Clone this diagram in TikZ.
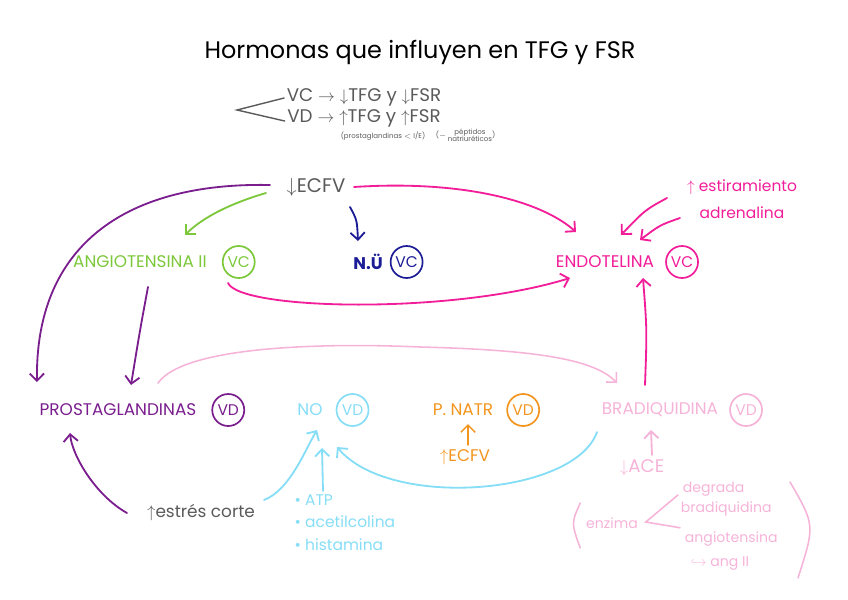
\documentclass[tikz,border=0pt]{standalone}
\usepackage{fontspec}
\setmainfont{Poppins}
\setsansfont{Poppins}
\usetikzlibrary{positioning, arrows.meta, calc}
\definecolor{hgGray}{HTML}{5A5A5A}
\definecolor{hgPurple}{HTML}{7A1E8E}
\definecolor{hgGreen}{HTML}{7CC83A}
\definecolor{hgNavy}{HTML}{1C1C96}
\definecolor{hgMagenta}{HTML}{F21D99}
\definecolor{hgPink}{HTML}{F6B3D8}
\definecolor{hgBlue}{HTML}{86DDF6}
\definecolor{hgOrange}{HTML}{F2951E}
\tikzset{
  every node/.style={font=\sffamily},
  arr/.style={-{Straight Barb[length=1.8mm, width=3.6mm]}, line width=1.3pt, line cap=round, line join=round},
  lbl/.style={inner sep=2pt, font=\sffamily\fontsize{12}{14}\selectfont},
  txt/.style={inner sep=1pt, font=\sffamily\fontsize{11}{13}\selectfont},
  small/.style={inner sep=0.5pt, font=\sffamily\fontsize{10}{11}\selectfont},
  note/.style={inner sep=1pt, font=\sffamily\fontsize{13}{15}\selectfont},
  tiny/.style={inner sep=0pt, text=hgGray, font=\sffamily\fontsize{5}{5.5}\selectfont},
  vcirc/.style={draw, circle, line width=1.2pt, minimum size=8mm, inner sep=0pt,
                font=\sffamily\fontsize{11}{13}\selectfont},
}

\begin{document}
\begin{tikzpicture}[x=0.025cm, y=-0.025cm, node distance=6mm and 10mm]
  \useasboundingbox (0,0) rectangle (848,599);
  % title and legend
  \node[font=\sffamily\fontsize{17}{20}\selectfont] (title) at (420,52) {Hormonas que influyen en TFG y FSR};
  \node[note, text=hgGray] (vc) at (364,97) {VC $\rightarrow$ $\downarrow$TFG y $\downarrow$FSR};
  \node[note, text=hgGray] (vd) at (364,118) {VD $\rightarrow$ $\uparrow$TFG y $\uparrow$FSR};
  \draw[hgGray, line width=1pt, line cap=round] ($(vc.west)+(-1,1)$) -- (237,110) -- ($(vd.west)+(-1,3)$);
  \node[tiny] (ptnote) at (383,136) {(prostaglandinas $<$ I/E)};
  \node[tiny, right=2.5mm of ptnote] (pnnote)
    {($-$\,{\renewcommand\arraystretch{0.75}\begin{tabular}{@{}c@{}}péptidos\\natriuréticos\end{tabular}})};
  % top row
  \node[lbl, text=hgGray, font=\sffamily\fontsize{14}{16}\selectfont] (ecfv) at (316,187) {$\downarrow$ECFV};
  \node[lbl, text=hgGreen] (angio) at (140,262) {ANGIOTENSINA II};
  \node[vcirc, draw=hgGreen, text=hgGreen, right=3mm of angio] (angioVC) {VC};
  \node[lbl, text=hgNavy, font=\sffamily\bfseries\fontsize{12}{14}\selectfont] (nu) at (368,262) {N.Ü};
  \node[vcirc, draw=hgNavy, text=hgNavy, right=1mm of nu] (nuVC) {VC};
  \node[lbl, text=hgMagenta] (endo) at (605,262) {ENDOTELINA};
  \node[vcirc, draw=hgMagenta, text=hgMagenta, right=2mm of endo] (endoVC) {VC};
  \node[txt, text=hgMagenta] (estir) at (742,187) {$\uparrow$ estiramiento};
  \node[txt, text=hgMagenta] (adren) at (742,213) {adrenalina};
  % bottom row
  \node[lbl, text=hgPurple] (prosta) at (118,410) {PROSTAGLANDINAS};
  \node[vcirc, draw=hgPurple, text=hgPurple, right=3mm of prosta] (prostaVD) {VD};
  \node[lbl, text=hgBlue] (no) at (310,410) {NO};
  \node[vcirc, draw=hgBlue, text=hgBlue, right=2.5mm of no] (noVD) {VD};
  \node[lbl, text=hgOrange] (pnatr) at (463,410) {P. NATR};
  \node[vcirc, draw=hgOrange, text=hgOrange, right=2.5mm of pnatr] (pnatrVD) {VD};
  \node[lbl, text=hgOrange] (ecfvB) at (465,457) {$\uparrow$ECFV};
  \node[lbl, text=hgPink] (brad) at (660,410) {BRADIQUIDINA};
  \node[vcirc, draw=hgPink, text=hgPink, right=2mm of brad] (bradVD) {VD};
  \node[lbl, text=hgPink, font=\sffamily\fontsize{13}{15}\selectfont] (ace) at (642,468) {$\downarrow$ACE};
  \node[small, text=hgPink] (enz) at (612,523) {enzima};
  \node[small, text=hgPink, anchor=west] (degr) at (682,489) {degrada};
  \node[small, text=hgPink, anchor=west] (bradq) at (680,509) {bradiquidina};
  \node[small, text=hgPink, anchor=west] (angiot) at (684,539) {angiotensina};
  \node[small, text=hgPink, anchor=west] (angII) at (690,563) {$\hookrightarrow$ ang II};
  \draw[hgPink, line width=1.1pt, line cap=round] ($(enz.west)+(-5,-20)$) .. controls ($(enz.west)+(-14,0)$) .. ($(enz.west)+(-5,25)$);
  \draw[hgPink, line width=1.1pt, line cap=round] ($(degr.north west)+(-4,14)$) -- ($(enz.east)+(7,-1)$) -- ($(angiot.north west)+(-4,-3)$);
  \draw[hgPink, line width=1.1pt, line cap=round] (790,482) .. controls (815,525) .. (798,578);
  \node[txt, text=hgGray, font=\sffamily\fontsize{12}{14}\selectfont] (estres) at (201,513) {$\uparrow$estrés corte};
  \node[txt, text=hgBlue, anchor=west] (atp) at (293,500) {• ATP};
  \node[txt, text=hgBlue, anchor=west] (acet) at (293,522) {• acetilcolina};
  \node[txt, text=hgBlue, anchor=west] (hist) at (293,545) {• histamina};
  % connectors
  \draw[arr, hgPurple] ($(ecfv)+(-46,-2)$) .. controls (120,182) and (35,250) .. ($(prosta)+(-81,-28)$);
  \draw[arr, hgGreen] ($(ecfv)+(-50,6)$) .. controls (225,205) and (200,220) .. ($(angio)+(45,-27)$);
  \draw[arr, hgNavy] ($(ecfv)+(34,20)$) .. controls (357,220) .. ($(nu)+(-10,-21)$);
  \draw[arr, hgMagenta] ($(ecfv)+(38,0)$) .. controls (460,180) and (540,200) .. ($(endo)+(-29,-30)$);
  \draw[arr, hgMagenta] ($(estir)+(-75,11)$) .. controls (645,210) .. ($(endo)+(16,-27)$);
  \draw[arr, hgMagenta] ($(adren)+(-62,5)$) .. controls (660,225) .. ($(endo)+(35,-22)$);
  \draw[arr, hgMagenta] ($(angio)+(88,21)$) .. controls (240,310) and (450,315) .. ($(endo)+(-35,16)$);
  \draw[arr, hgMagenta] ($(brad)+(-15,-25)$) .. controls (647,330) .. ($(endo)+(38,16)$);
  \draw[arr, hgPurple] ($(angio)+(8,25)$) .. controls (140,330) .. ($(prosta)+(13,-25)$);
  \draw[arr, hgPink, line width=1.1pt] ($(prosta)+(40,-27)$) .. controls (185,345) and (330,343) .. (420,347)
    .. controls (540,350) and (595,360) .. ($(brad)+(-43,-27)$);
  \draw[arr, hgPurple] ($(estres)+(-74,0)$) .. controls (95,495) and (72,455) .. ($(prosta)+(-48,23)$);
  \draw[arr, hgBlue] ($(estres)+(63,-13)$) .. controls (290,490) and (305,450) .. ($(no)+(7,20)$);
  \draw[arr, hgBlue] ($(atp.north west)+(30,-2)$) -- ($(no)+(12,38)$);
  \draw[arr, hgBlue] ($(brad)+(-63,22)$) .. controls (575,495) and (390,510) .. ($(no)+(27,37)$);
  \draw[arr, hgOrange, line width=1.1pt] ($(ecfvB)+(3,-12)$) -- ($(pnatr)+(5,14)$);
  \draw[arr, hgPink] ($(ace)+(10,-13)$) -- ($(brad)+(-9,20)$);
\end{tikzpicture}
\end{document}
